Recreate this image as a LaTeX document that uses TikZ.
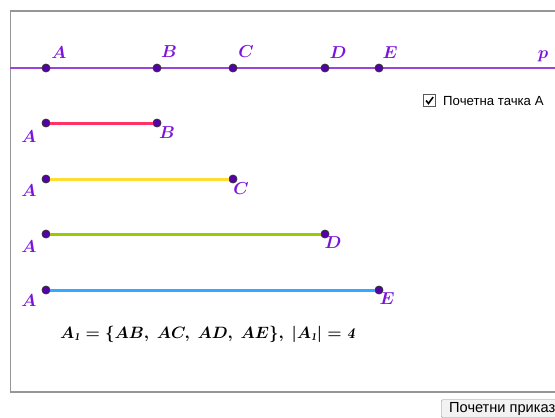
\documentclass[tikz,border=0pt]{standalone}
\usepackage{fontspec}
\newfontfamily\uifont{Liberation Sans}
\usepackage{amsmath}
\definecolor{linep}{RGB}{153,68,221}
\definecolor{lbl}{RGB}{122,20,220}
\definecolor{ptfill}{RGB}{85,0,170}
\definecolor{segab}{RGB}{255,51,102}
\definecolor{segac}{RGB}{255,221,51}
\definecolor{segad}{RGB}{153,204,0}
\definecolor{segae}{RGB}{51,170,255}
\definecolor{frame}{RGB}{150,150,150}
\tikzset{
  pt/.style={circle,draw=black!80,fill=ptfill,line width=0.8pt,inner sep=0pt,minimum size=8pt},
  lab/.style={text=lbl,inner sep=0pt,font=\fontsize{16}{18}\selectfont\boldmath},
  seg/.style={line width=3pt},
}
\begin{document}
\begin{tikzpicture}[x=1pt,y=-1pt]
\useasboundingbox (0,0) rectangle (555,418);
\fill[white] (0,0) rectangle (555,418);
\draw[frame,line width=1.2pt] (560,11) -- (10.5,11) -- (10.5,392) -- (560,392);
% line p
\coordinate (pl) at (10,68);
\coordinate (pr) at (555,68);
\draw[linep,line width=2.8pt] (pl) -- (pr);
\node[pt] (A) at (46,68) {};
\node[pt] (B) at (157,68) {};
\node[pt] (C) at (233,68) {};
\node[pt] (D) at (325,68) {};
\node[pt] (E) at (379,68) {};
\node[lab] (lA) at (59,52.5) {$A$};
\node[lab] (lB) at (169,51.5) {$B$};
\node[lab] (lC) at (246,51.5) {$C$};
\node[lab] (lD) at (338,52.5) {$D$};
\node[lab] (lE) at (390,52.5) {$E$};
\node[lab] (lp) at (543,56) {$p$};
% segments
\node[pt] (A1) at (46,123) {};
\node[pt] (B1) at (157,123) {};
\node[pt] (A2) at (46,179) {};
\node[pt] (C2) at (233,179) {};
\node[pt] (A3) at (46,234) {};
\node[pt] (D3) at (325,234) {};
\node[pt] (A4) at (46,290) {};
\node[pt] (E4) at (379,290) {};
\draw[seg,segab] (A1) -- (B1);
\draw[seg,segac] (A2) -- (C2);
\draw[seg,segad] (A3) -- (D3);
\draw[seg,segae] (A4) -- (E4);
\node[lab] (lA1) at (29,136.5) {$A$};
\node[lab] (lB1) at (167,132.5) {$B$};
\node[lab] (lA2) at (29,190.5) {$A$};
\node[lab] (lC2) at (241,188.5) {$C$};
\node[lab] (lA3) at (29,246.5) {$A$};
\node[lab] (lD3) at (333,242.5) {$D$};
\node[lab] (lA4) at (29,300.5) {$A$};
\node[lab] (lE4) at (387,298.5) {$E$};
% formula
\node[anchor=west,inner sep=0pt,font=\fontsize{16}{18}\selectfont\boldmath] (form) at (60,334)
  {\scalebox{0.95}{$A_{\mathit{1}} = \{AB,\ AC,\ AD,\ AE\},\ |A_{\mathit{1}}| = \mathit{4}$}};
% checkbox
\node[draw=black!65,fill=white,line width=1pt,minimum size=12pt,inner sep=0pt] (cb) at (429.5,100.5) {};
\draw[line width=1.6pt,black] ([shift={(-3.4,0)}]cb.center) -- ([shift={(-1,3)}]cb.center) -- ([shift={(3.6,-3.4)}]cb.center);
\node[anchor=west,inner sep=0pt,font=\uifont\fontsize{13.2}{15}\selectfont] (cbt) at (443,101.5) {Почетна тачка А};
% button
\node[anchor=north west,draw=black!45,fill=black!5,inner xsep=8pt,inner ysep=2.5pt,font=\uifont\fontsize{14.6}{16}\selectfont,rounded corners=1.5pt] (btn) at (441,399.5) {Почетни приказ};
\end{tikzpicture}
\end{document}
